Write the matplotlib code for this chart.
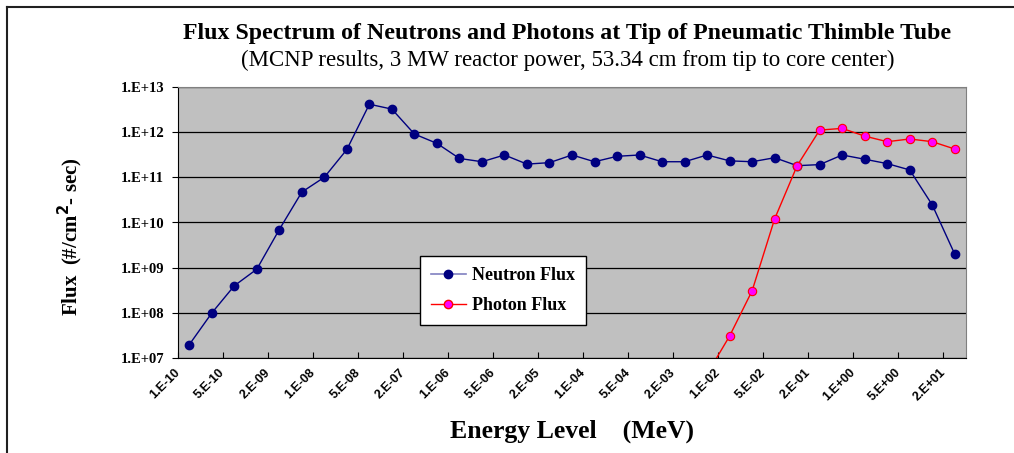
import numpy as np
import matplotlib
matplotlib.use("Agg")
import matplotlib.pyplot as plt
from matplotlib.lines import Line2D
from matplotlib.ticker import FixedLocator, FuncFormatter, NullLocator

# ---- data ----
energy = ["1.E-10", "2.E-10", "5.E-10", "1.E-09", "2.E-09", "5.E-09",
          "1.E-08", "2.E-08", "5.E-08", "1.E-07", "2.E-07", "5.E-07",
          "1.E-06", "2.E-06", "5.E-06", "1.E-05", "2.E-05", "5.E-05",
          "1.E-04", "2.E-04", "5.E-04", "1.E-03", "2.E-03", "5.E-03",
          "1.E-02", "2.E-02", "5.E-02", "1.E-01", "2.E-01", "5.E-01",
          "1.E+00", "2.E+00", "5.E+00", "1.E+01", "2.E+01"]

neutron = [2.0e7, 1.0e8, 4.0e8, 9.3e8, 7.0e9, 4.7e10, 1.0e11, 4.1e11,
           4.1e12, 3.2e12, 9.0e11, 5.6e11, 2.6e11, 2.2e11, 3.1e11, 1.95e11,
           2.1e11, 3.1e11, 2.2e11, 2.9e11, 3.1e11, 2.2e11, 2.2e11, 3.1e11,
           2.3e11, 2.2e11, 2.7e11, 1.8e11, 1.9e11, 3.1e11, 2.5e11, 2.0e11,
           1.45e11, 2.45e10, 2.0e9]

photon = [np.nan] * 23 + [4.5e6, 3.1e7, 3.1e8, 1.2e10, 1.8e11, 1.1e12,
                          1.2e12, 8.1e11, 6.1e11, 7.0e11, 6.1e11, 4.2e11]

yticks = [1e7, 1e8, 1e9, 1e10, 1e11, 1e12, 1e13]

# ---- figure ----
fig = plt.figure(figsize=(10.14, 4.53), dpi=100)
ax = fig.add_axes([178/1014, 1-358.3/453, (966-178)/1014, (358.3-86.7)/453])
ax.set_facecolor("#C0C0C0")

x = np.arange(len(energy))
ax.plot(x, neutron, color="#000080", lw=1.0, marker="o", ms=6,
        mfc="#000080", mec="#000080", zorder=3)
ax.plot(x, photon, color="#FF0000", lw=1.0, marker="o", ms=6,
        mfc="#FF00FF", mec="#FF0000", mew=0.8, zorder=4)

ax.set_yscale("log")
ax.set_ylim(1e7, 1e13)
ax.set_xlim(-0.5, len(energy) - 0.5)
ax.yaxis.set_major_locator(FixedLocator(yticks))
ax.yaxis.set_minor_locator(NullLocator())
ax.yaxis.set_major_formatter(FuncFormatter(lambda v, p: "1.E+%02d" % round(np.log10(v))))
ax.grid(axis="y", color="black", lw=0.9, zorder=1)
ax.set_axisbelow(True)

# category ticks every 2nd category, sitting on the category boundaries
tick_pos = np.arange(-0.5, len(energy) - 1, 2)
ax.set_xticks(tick_pos)
ax.set_xticklabels(energy[::2], rotation=45, ha="right", va="center",
                   rotation_mode="anchor", fontfamily="Liberation Sans",
                   fontweight="bold", fontsize=9)
ax.tick_params(axis="x", direction="in", length=4, pad=9, width=0.8)
ax.tick_params(axis="y", direction="out", length=4, pad=6, width=0.8)
for lab in ax.get_yticklabels():
    lab.set_fontfamily("Liberation Serif")
    lab.set_fontweight("bold")
    lab.set_fontsize(10.5)

for s in ["top", "right"]:
    ax.spines[s].set_color("#808080")
ax.spines["left"].set_color("black")
ax.spines["bottom"].set_color("black")

# ---- text ----
fig.text(567/1014, 1-34/453, "Flux Spectrum of Neutrons and Photons at Tip of Pneumatic Thimble Tube",
         ha="center", va="center", fontfamily="Liberation Serif",
         fontweight="bold", fontsize=17.2)
fig.text(568/1014, 1-60/453, "(MCNP results, 3 MW reactor power, 53.34 cm from tip to core center)",
         ha="center", va="center", fontfamily="Liberation Serif", fontsize=16.5)
fig.text(572/1014, 1-431/453, "Energy Level    (MeV)", ha="center", va="center",
         fontfamily="Liberation Serif", fontweight="bold", fontsize=18.5)
fig.text(70/1014, 1-237/453, "Flux  (#/cm$^{\\mathbf{2}}$- sec)", ha="center", va="center",
         rotation=90, fontfamily="Liberation Serif", fontweight="bold", fontsize=15)

# ---- legend ----
handles = [Line2D([], [], color="#8080C0", lw=1.2, marker="o", ms=6,
                  mfc="#000080", mec="#000080"),
           Line2D([], [], color="#FF0000", lw=1.0, marker="o", ms=6,
                  mfc="#FF00FF", mec="#FF0000")]
leg = ax.legend(handles, ["Neutron Flux", "Photon Flux"], loc="upper left",
                bbox_to_anchor=(420/1014, 1-256/453), bbox_transform=fig.transFigure,
                fancybox=False, framealpha=1, edgecolor="black", borderaxespad=0,
                prop={"family": "Liberation Serif", "weight": "bold", "size": 13},
                handlelength=1.95, labelspacing=0.75, borderpad=0.6, handletextpad=0.35)
leg.get_frame().set_linewidth(1.0)

# outer chart frame (only left and top edges are inside the image)
fig.add_artist(Line2D([7/1014, 7/1014], [0, 1-7/453], transform=fig.transFigure,
                      color="#202020", lw=1.5))
fig.add_artist(Line2D([7/1014, 1], [1-7/453, 1-7/453], transform=fig.transFigure,
                      color="#202020", lw=1.5))

fig.savefig("out.png", dpi=100)
